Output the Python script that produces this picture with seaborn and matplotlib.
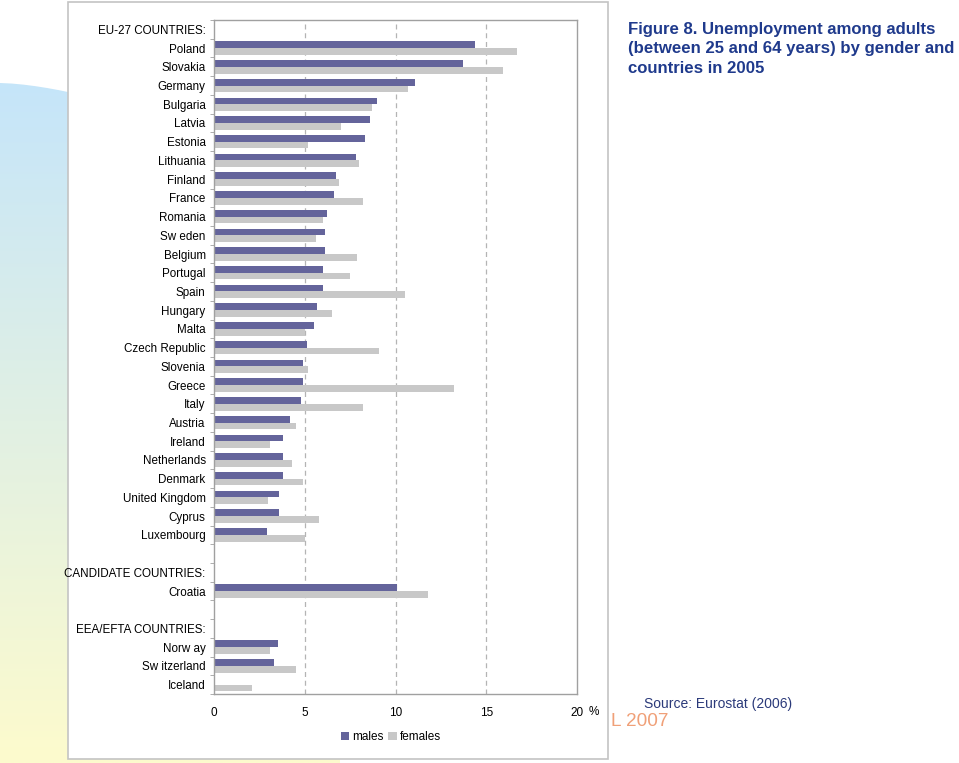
import numpy as np
import pandas as pd
import matplotlib
matplotlib.use('Agg')
import matplotlib.pyplot as plt
import seaborn as sns
from matplotlib.patches import Rectangle, Polygon

# chart data, % unemployed aged 25-64, 2005
eu_countries = ['Poland', 'Slovakia', 'Germany', 'Bulgaria', 'Latvia', 'Estonia',
                'Lithuania', 'Finland', 'France', 'Romania', 'Sw eden', 'Belgium',
                'Portugal', 'Spain', 'Hungary', 'Malta', 'Czech Republic', 'Slovenia',
                'Greece', 'Italy', 'Austria', 'Ireland', 'Netherlands', 'Denmark',
                'United Kingdom', 'Cyprus', 'Luxembourg']
eu_males = [14.4, 13.7, 11.1, 9.0, 8.6, 8.3, 7.8, 6.7, 6.6, 6.2, 6.1, 6.1, 6.0, 6.0,
            5.7, 5.5, 5.1, 4.9, 4.9, 4.8, 4.2, 3.8, 3.8, 3.8, 3.6, 3.6, 2.9]
eu_females = [16.7, 15.9, 10.7, 8.7, 7.0, 5.2, 8.0, 6.9, 8.2, 6.0, 5.6, 7.9, 7.5, 10.5,
              6.5, 5.0, 9.1, 5.2, 13.2, 8.2, 4.5, 3.1, 4.3, 4.9, 3.0, 5.8, 5.0]

cand_countries = ['Croatia']
cand_males = [10.1]
cand_females = [11.8]

efta_countries = ['Norw ay', 'Sw itzerland', 'Iceland']
efta_males = [3.5, 3.3, np.nan]
efta_females = [3.1, 4.5, 2.1]

headers = ['EU-27 COUNTRIES:', 'CANDIDATE COUNTRIES:', 'EEA/EFTA COUNTRIES:']

# row order incl. group headers and blank spacer rows
order = ([headers[0]] + eu_countries + [' ', headers[1]] + cand_countries
         + ['  ', headers[2]] + efta_countries)

countries = eu_countries + cand_countries + efta_countries
males = eu_males + cand_males + efta_males
females = eu_females + cand_females + efta_females

df = pd.DataFrame({
    'country': countries * 2,
    'value': males + females,
    'sex': ['males'] * len(countries) + ['females'] * len(countries),
})

male_col = '#64649b'
female_col = '#c8c8c8'
navy = '#1f3a8c'

W, H = 959, 763
fig = plt.figure(figsize=(W / 100, H / 100), dpi=100)
fig.patch.set_facecolor('white')

# background slide decoration in pixel coordinates
bg = fig.add_axes([0, 0, 1, 1], zorder=0)
bg.set_xlim(0, W)
bg.set_ylim(H, 0)
bg.axis('off')
grad = np.linspace(0, 1, 256)[:, None]
top_c = np.array([197, 229, 250]) / 255
bot_c = np.array([253, 251, 205]) / 255
img = top_c[None, None, :] * (1 - grad[:, :, None]) + bot_c[None, None, :] * grad[:, :, None]
im = bg.imshow(img, extent=(0, 340, H, 80), aspect='auto', zorder=0)
xs = np.linspace(0, 340, 30)
arc = 83 + 9 * (xs / 68) ** 1.6
clip = Polygon(list(zip(xs, arc)) + [(340, H), (0, H)], closed=True,
               transform=bg.transData, facecolor='none', edgecolor='none')
bg.add_patch(clip)
im.set_clip_path(clip)
bg.add_patch(Rectangle((68, 2), 540, 757, facecolor='white', edgecolor='#c4c4c4',
                       lw=1.2, zorder=2))

bg.text(628, 22, 'Figure 8. Unemployment among adults\n(between 25 and 64 years) by gender and\ncountries in 2005',
        color=navy, fontsize=12.1, fontweight='bold', family='Liberation Sans',
        va='top', ha='left', linespacing=1.36, zorder=3)
bg.text(644, 704, 'Source: Eurostat (2006)', color='#2b3a7a', fontsize=10,
        family='Liberation Sans', va='center', ha='left', zorder=3)
bg.text(611, 722, 'L 2007', color='#f0a078', fontsize=13.7,
        family='Liberation Sans', va='center', ha='left', zorder=3)

# the bar chart
ax = fig.add_axes([214 / W, 1 - 694 / H, (577 - 214) / W, (694 - 20) / H], zorder=2)
sns.barplot(data=df, y='country', x='value', hue='sex', order=order,
            hue_order=['males', 'females'], palette=[male_col, female_col],
            orient='h', width=0.72, gap=0, errorbar=None, linewidth=0,
            saturation=1, ax=ax)

ax.set_xlim(0, 20)
ax.set_ylim(len(order) - 0.5, -0.5)
ax.set_xticks([0, 5, 10, 15, 20])
ax.set_xlabel('')
ax.set_ylabel('')
ax.set_facecolor('white')
for x in [5, 10, 15]:
    ax.axvline(x, color='#b4b4b4', lw=0.9, ls=(0, (4, 3)), zorder=0)
for s in ax.spines.values():
    s.set_color('#a0a0a0')
    s.set_linewidth(1.0)

ax.set_yticks(np.arange(-0.5, len(order), 1), minor=True)
ax.tick_params(axis='y', which='major', length=0, pad=6, labelsize=8.4)
ax.tick_params(axis='y', which='minor', length=3, color='#a0a0a0', direction='out')
ax.tick_params(axis='x', which='both', length=0, pad=9, labelsize=8.5)
for lab in ax.get_yticklabels() + ax.get_xticklabels():
    lab.set_family('Liberation Sans')
ax.text(20.9, -0.0265, '%', transform=ax.get_xaxis_transform(), fontsize=8.5,
        family='Liberation Sans', va='center', ha='center')

ax.legend(loc='center', bbox_to_anchor=(391 / W, 1 - 737 / H),
          bbox_transform=fig.transFigure, ncol=2, frameon=False,
          handlelength=0.7, handleheight=0.7, handletextpad=0.3,
          columnspacing=0.4, prop={'family': 'Liberation Sans', 'size': 8.5})

fig.savefig('out.png', dpi=100)
